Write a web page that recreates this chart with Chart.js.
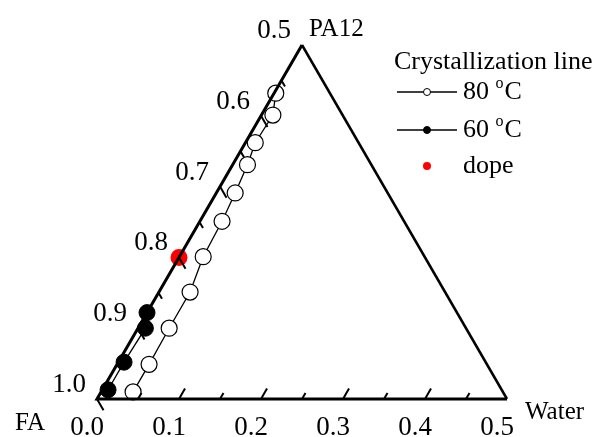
<!DOCTYPE html>
<html>
<head>
<meta charset="utf-8">
<script src="https://cdn.jsdelivr.net/npm/chart.js@4.4.1/dist/chart.umd.min.js"></script>
<style>
  html, body { margin: 0; padding: 0; background: #fff; }
  canvas { display: block; }
</style>
</head>
<body>
<canvas id="ternary" width="592" height="437"></canvas>
<script>
// Compositions (mass fractions)
// 80 C crystallization line
var water80 = [0.039, 0.039, 0.038, 0.038, 0.029, 0.027, 0.023, 0.018, 0.012, 0.014, 0.002];
var pa80    = [0.010, 0.049, 0.100, 0.151, 0.201, 0.251, 0.291, 0.331, 0.362, 0.401, 0.432];
// 60 C crystallization line
var water60 = [0.007, 0.007, 0.009, 0.000];
var pa60    = [0.013, 0.052, 0.100, 0.122];
// dope composition
var waterDope = [0.0];
var paDope    = [0.2];

// tick labels
var waterTicks = ['0.0', '0.1', '0.2', '0.3', '0.4', '0.5'];
var faTicks    = ['1.0', '0.9', '0.8', '0.7', '0.6', '0.5'];

var SQ3 = Math.sqrt(3);
var FONT = '"Liberation Serif", "Times New Roman", serif';

// ternary (water, PA12) -> cartesian
function toXY(w, p) {
	return { x: w + p / 2, y: p * SQ3 / 2 };
}

function buildPoints(ws, ps) {
	var pts = [];
	for (var i = 0; i < ws.length; i++) {
		pts.push(toXY(ws[i], ps[i]));
	}
	return pts;
}

// Triangle frame, ticks, labels and legend
var ternaryFrame = {
	id: 'ternaryFrame',
	afterDatasetsDraw: function (chart) {
		var ctx = chart.ctx;
		var xs  = chart.scales.x;
		var ys  = chart.scales.y;

		function px(w, p) {
			var c = toXY(w, p);
			return [xs.getPixelForValue(c.x), ys.getPixelForValue(c.y)];
		}

		var fa    = px(0, 0);
		var water = px(0.5, 0);
		var top   = px(0, 0.5);

		ctx.save();
		ctx.strokeStyle = '#000';
		ctx.lineCap = 'butt';
		ctx.lineJoin = 'miter';

		// edges
		ctx.lineWidth = 2.5;
		ctx.beginPath();
		ctx.moveTo(top[0], top[1]);
		ctx.lineTo(water[0], water[1]);
		ctx.stroke();

		ctx.lineWidth = 3;
		ctx.beginPath();
		ctx.moveTo(water[0], water[1]);
		ctx.lineTo(fa[0], fa[1]);
		ctx.lineTo(top[0], top[1]);
		ctx.stroke();

		// bottom (water) ticks, pointing up-right
		ctx.lineWidth = 2;
		var k, p, len;
		for (k = 1; k <= 9; k++) {
			p = px(k * 0.05, 0);
			len = (k % 2 === 0) ? 12 : 7;
			ctx.beginPath();
			ctx.moveTo(p[0], p[1]);
			ctx.lineTo(p[0] + 0.5 * len, p[1] - 0.866 * len);
			ctx.stroke();
		}
		// left (FA) ticks, pointing down-right
		for (k = 0; k <= 9; k++) {
			p = px(0, k * 0.05);
			len = (k % 2 === 0) ? 13 : 7;
			ctx.beginPath();
			ctx.moveTo(p[0], p[1]);
			ctx.lineTo(p[0] + 0.5 * len, p[1] + 0.866 * len);
			ctx.stroke();
		}

		// tick labels
		ctx.fillStyle = '#000';
		ctx.font = '27px ' + FONT;
		ctx.textAlign = 'center';
		ctx.textBaseline = 'middle';
		for (k = 0; k < waterTicks.length; k++) {
			p = px(k * 0.1, 0);
			ctx.fillText(waterTicks[k], p[0] - 10, p[1] + 29);
		}
		for (k = 0; k < faTicks.length; k++) {
			p = px(0, k * 0.1);
			ctx.fillText(faTicks[k], p[0] - 28, p[1] - 14);
		}

		// vertex names
		ctx.font = '25px ' + FONT;
		ctx.textAlign = 'left';
		ctx.fillText('FA', 15, 423);
		ctx.fillText('Water', 525, 412);
		ctx.fillText('PA12', 309, 29);

		// legend
		ctx.font = '26px ' + FONT;
		ctx.fillText('Crystallization line', 394, 62);

		var rows = [
			{ y: 92, label: '80', ds: chart.data.datasets[0], line: true },
			{ y: 130, label: '60', ds: chart.data.datasets[1], line: true },
			{ y: 166, label: 'dope', ds: chart.data.datasets[2], line: false }
		];
		rows.forEach(function (r) {
			if (r.line) {
				ctx.lineWidth = 1.3;
				ctx.beginPath();
				ctx.moveTo(397, r.y);
				ctx.lineTo(457, r.y);
				ctx.stroke();
			}
			ctx.beginPath();
			ctx.arc(427, r.y, r.line ? 3.5 : 4, 0, Math.PI * 2);
			ctx.fillStyle = r.ds.pointBackgroundColor;
			ctx.fill();
			if (r.line) {
				ctx.lineWidth = 1;
				ctx.stroke();
			}
			ctx.fillStyle = '#000';
			ctx.font = '26px ' + FONT;
			ctx.fillText(r.label, 463, r.y);
			if (r.line) {
				var w = ctx.measureText(r.label + ' ').width;
				ctx.font = '16px ' + FONT;
				ctx.fillText('o', 463 + w, r.y - 8);
				var wo = ctx.measureText('o').width;
				ctx.font = '26px ' + FONT;
				ctx.fillText('C', 463 + w + wo + 1, r.y);
			}
		});

		ctx.restore();
	}
};

var chart = new Chart(document.getElementById('ternary'), {
	type: 'scatter',
	data: {
		datasets: [
			{
				label: '80 \u00B0C',
				data: buildPoints(water80, pa80),
				showLine: true,
				borderColor: '#000',
				borderWidth: 1.3,
				pointRadius: 8,
				pointBackgroundColor: '#fff',
				pointBorderColor: '#000',
				pointBorderWidth: 1.2,
				clip: false
			},
			{
				label: '60 \u00B0C',
				data: buildPoints(water60, pa60),
				showLine: true,
				borderColor: '#000',
				borderWidth: 1.3,
				pointRadius: 8,
				pointBackgroundColor: '#000',
				pointBorderColor: '#000',
				pointBorderWidth: 1,
				clip: false
			},
			{
				label: 'dope',
				data: buildPoints(waterDope, paDope),
				showLine: false,
				pointRadius: 8.5,
				pointBackgroundColor: '#f00',
				pointBorderColor: '#f00',
				pointBorderWidth: 0,
				clip: false
			}
		]
	},
	options: {
		responsive: false,
		animation: false,
		devicePixelRatio: 1,
		layout: {
			padding: { left: 97, right: 85, top: 45, bottom: 38 }
		},
		plugins: {
			legend: { display: false },
			tooltip: { enabled: false }
		},
		scales: {
			x: { type: 'linear', min: 0, max: 0.5, display: false },
			y: { type: 'linear', min: 0, max: 0.25 * SQ3, display: false }
		}
	},
	plugins: [ternaryFrame]
});
</script>
</body>
</html>
